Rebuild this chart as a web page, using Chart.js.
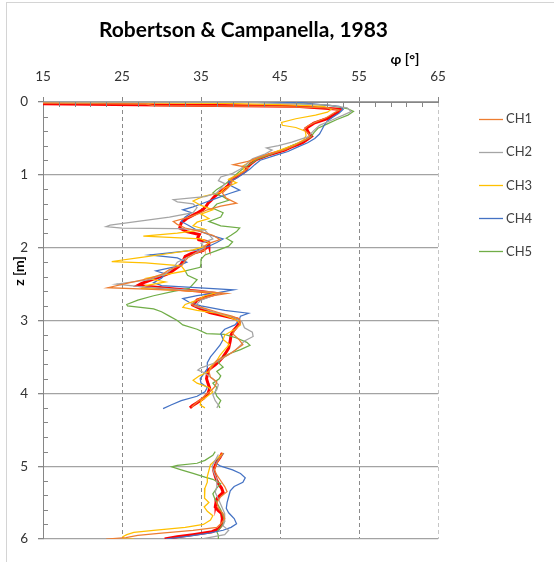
<!DOCTYPE html>
<html>
<head>
<meta charset="utf-8">
<script src="https://cdn.jsdelivr.net/npm/chart.js@4.4.1/dist/chart.umd.min.js"></script>
<style>
  html, body { margin: 0; padding: 0; background: #ffffff; }
  canvas { display: block; }
</style>
</head>
<body>
<canvas id="chart" width="554" height="562"></canvas>
<script>
// Friction angle profiles from CPT soundings: [depth z (m), phi (deg)], null = no data
const titleText = 'Robertson & Campanella, 1983';
const xAxisTitle = 'φ [°]';
const yAxisTitle = 'z [m]';
const xTickValues = [15, 25, 35, 45, 55, 65];
const yTickValues = [0, 1, 2, 3, 4, 5, 6];
const seriesNames = ['CH1', 'CH2', 'CH3', 'CH4', 'CH5'];
const seriesColors = ['#ED7D31', '#A5A5A5', '#FFC000', '#4472C4', '#70AD47'];
const meanColor = '#FF0000';

const ch1 = [[0.01,10],[0.03,28],[0.05,29],[0.06,44],[0.08,51],[0.11,52.5],[0.15,51.8],[0.22,50.8],[0.28,49.4],[0.33,48.5],[0.38,48.0],[0.43,48.6],[0.48,48.8],[0.53,48.0],[0.60,46.8],[0.66,45.5],[0.72,43.5],[0.78,41.8],[0.82,40.8],[0.86,39.1],[0.90,41.0],[0.95,40.5],[1.00,39.8],[1.06,38.8],[1.12,38.9],[1.18,38.4],[1.25,37.7],[1.32,38.2],[1.39,39.5],[1.43,37.5],[1.48,35.8],[1.53,34.8],[1.58,33.5],[1.64,31.5],[1.68,32.0],[1.73,33.0],[1.78,35.0],[1.83,36.5],[1.89,37.4],[1.94,36.0],[1.98,35.4],[2.03,35.5],[2.08,34.3],[2.13,33.4],[2.18,33.0],[2.24,32.6],[2.30,31.0],[2.36,30.2],[2.42,28.5],[2.48,26.0],[2.55,23.2],[2.57,28.0],[2.60,35.0],[2.63,38.3],[2.67,36.0],[2.72,34.5],[2.78,33.8],[2.83,35.4],[2.89,37.2],[2.94,38.9],[2.98,39.9],[3.04,40.0],[3.10,39.5],[3.18,39.0],[3.26,39.8],[3.33,40.3],[3.40,39.4],[3.47,38.5],[3.55,37.0],[3.62,36.5],[3.70,36.0],[3.78,36.2],[3.84,37.0],[3.90,36.8],[3.96,36.3],[4.02,35.6],[4.08,35.0],[4.14,34.3],[4.19,33.8],null,[4.82,37.8],[4.90,37.3],[4.98,36.9],[5.05,36.7],[5.12,37.0],[5.20,37.5],[5.28,38.0],[5.35,38.3],[5.42,37.5],[5.50,37.0],[5.58,37.2],[5.65,37.8],[5.72,38.0],[5.78,37.6],[5.84,37.0],[5.88,34.0],[5.92,30.0],[5.95,27.0],[5.98,25.5],[6.00,23.0]];

const ch2 = [[0.00,10],[0.005,41.2],[0.02,45.0],[0.04,51.0],[0.08,53.5],[0.13,54.0],[0.18,53.0],[0.25,51.5],[0.32,50.0],[0.40,49.2],[0.48,48.5],[0.55,46.5],[0.60,44.8],[0.63,43.3],[0.66,44.0],[0.72,43.0],[0.78,41.5],[0.85,40.8],[0.92,40.0],[0.98,39.0],[1.03,37.5],[1.08,37.2],[1.12,38.0],[1.18,37.6],[1.25,37.0],[1.30,35.5],[1.34,31.5],[1.37,32.0],[1.40,34.0],[1.45,34.5],[1.52,34.0],[1.58,31.0],[1.64,27.0],[1.69,23.5],[1.71,23.0],[1.73,25.0],[1.74,32.0],[1.76,35.5],[1.82,36.0],[1.88,36.5],[1.94,35.0],[2.00,35.5],[2.06,34.5],[2.12,33.6],[2.20,32.0],[2.28,31.5],[2.36,30.5],[2.44,28.5],[2.50,24.3],[2.53,27.0],[2.58,33.0],[2.62,37.5],[2.66,36.5],[2.72,35.0],[2.80,34.2],[2.88,36.5],[2.95,39.0],[3.02,40.2],[3.10,40.5],[3.16,41.5],[3.22,41.6],[3.28,40.5],[3.34,40.0],[3.42,39.2],[3.50,38.0],[3.58,36.8],[3.65,35.0],[3.68,34.6],[3.72,35.5],[3.80,36.5],[3.88,37.2],[3.95,37.0],[4.02,36.5],[4.10,36.8],[4.16,37.2],[4.20,37.0],null,[4.84,37.2],[4.92,36.8],[5.00,36.4],[5.08,36.6],[5.18,37.0],[5.28,37.0],[5.36,36.8],[5.45,37.2],[5.55,37.6],[5.65,38.0],[5.75,38.0],[5.82,37.8],[5.88,38.5],[5.94,38.0],[5.98,36.0],[6.00,35.0]];

const ch3 = [[0.00,10],[0.02,38.0],[0.04,46.0],[0.06,50.5],[0.10,51.5],[0.14,51.0],[0.18,49.5],[0.23,47.0],[0.28,45.2],[0.32,45.3],[0.35,47.0],[0.40,48.2],[0.46,48.3],[0.52,48.0],[0.58,47.0],[0.64,45.5],[0.70,44.0],[0.76,42.3],[0.82,41.2],[0.88,40.3],[0.94,40.5],[1.00,39.6],[1.06,38.5],[1.11,39.5],[1.18,38.0],[1.24,37.5],[1.30,35.2],[1.36,34.0],[1.42,35.0],[1.48,36.5],[1.54,35.0],[1.60,36.0],[1.65,34.5],[1.70,34.0],[1.75,35.5],[1.80,32.0],[1.84,27.7],[1.86,31.0],[1.88,35.0],[1.93,36.0],[1.98,35.5],[2.03,34.0],[2.08,31.0],[2.14,27.0],[2.19,23.7],[2.21,28.0],[2.25,32.5],[2.32,33.0],[2.38,30.0],[2.42,28.1],[2.47,30.5],[2.52,28.0],[2.56,27.5],[2.59,33.0],[2.62,37.0],[2.66,35.5],[2.72,34.5],[2.78,33.0],[2.82,32.7],[2.86,34.5],[2.90,37.0],[2.95,38.5],[3.00,39.6],[3.06,40.0],[3.12,39.3],[3.20,38.0],[3.26,37.8],[3.33,38.6],[3.40,38.0],[3.48,37.4],[3.55,37.0],[3.62,36.3],[3.70,36.0],[3.76,34.8],[3.82,34.0],[3.86,34.5],[3.92,36.0],[3.98,36.5],[4.04,35.8],[4.10,35.0],[4.16,34.9],[4.20,35.5],null,[4.82,37.8],[4.90,37.0],[4.98,36.2],[5.06,36.0],[5.14,35.8],[5.22,35.8],[5.30,35.5],[5.38,35.5],[5.44,35.4],[5.50,36.0],[5.56,35.4],[5.62,35.8],[5.68,36.5],[5.74,36.2],[5.80,35.3],[5.84,33.0],[5.88,29.0],[5.91,26.5],[5.94,25.6],[5.97,25.1],[6.00,25.2],[6.00,26.5]];

const ch4 = [[0.00,10],[0.005,47.5],[0.02,48.5],[0.04,50.5],[0.06,52.5],[0.10,53.0],[0.15,52.5],[0.20,51.8],[0.26,51.0],[0.32,50.6],[0.38,50.3],[0.44,50.0],[0.50,49.4],[0.56,48.5],[0.62,47.2],[0.68,46.0],[0.74,44.2],[0.80,42.5],[0.86,41.8],[0.92,41.2],[0.98,40.4],[1.04,39.6],[1.10,38.5],[1.15,38.8],[1.21,39.9],[1.26,38.5],[1.32,37.0],[1.38,35.5],[1.44,34.0],[1.48,32.7],[1.52,33.8],[1.58,33.0],[1.64,32.5],[1.70,33.5],[1.76,34.5],[1.82,36.0],[1.88,37.8],[1.93,37.0],[1.98,36.0],[2.03,34.5],[2.07,31.0],[2.10,28.5],[2.14,32.0],[2.20,33.2],[2.26,31.8],[2.32,29.3],[2.36,30.5],[2.42,30.0],[2.48,29.0],[2.52,30.0],[2.56,36.0],[2.58,39.1],[2.62,37.0],[2.66,34.5],[2.70,32.7],[2.75,33.5],[2.80,35.0],[2.86,38.0],[2.90,41.0],[2.94,40.0],[3.00,39.8],[3.06,39.3],[3.12,38.0],[3.18,37.5],[3.26,37.8],[3.34,37.4],[3.42,36.8],[3.50,36.2],[3.58,35.8],[3.66,35.8],[3.74,35.3],[3.80,34.9],[3.86,35.0],[3.92,35.8],[3.98,35.5],[4.04,34.5],[4.10,32.5],[4.16,31.2],[4.21,30.2],null,[4.82,37.9],[4.90,37.2],[4.96,36.9],[5.00,37.5],[5.05,39.0],[5.10,40.0],[5.16,40.6],[5.22,40.3],[5.28,39.2],[5.34,38.7],[5.42,38.5],[5.50,38.3],[5.58,38.2],[5.64,38.5],[5.72,39.2],[5.79,39.5],[5.84,38.8],[5.88,37.8],[5.92,36.0],[5.96,33.5],[6.00,30.5]];

const ch5 = [[0.00,10],[0.005,42.0],[0.02,47.0],[0.05,51.5],[0.09,53.5],[0.13,54.3],[0.18,53.6],[0.24,52.2],[0.30,51.0],[0.36,49.8],[0.42,49.3],[0.48,48.9],[0.54,47.8],[0.60,46.5],[0.66,45.2],[0.72,43.8],[0.78,42.2],[0.84,41.4],[0.90,40.5],[0.96,39.8],[1.02,39.2],[1.08,38.6],[1.14,37.9],[1.20,37.0],[1.25,36.5],[1.30,37.8],[1.35,38.5],[1.40,37.0],[1.46,36.5],[1.52,37.8],[1.58,37.5],[1.64,36.0],[1.70,37.5],[1.73,39.9],[1.78,39.5],[1.83,38.8],[1.87,38.2],[1.92,39.0],[1.98,38.5],[2.04,37.0],[2.10,35.5],[2.16,35.0],[2.22,35.0],[2.27,34.9],[2.32,33.0],[2.38,33.3],[2.44,34.5],[2.50,34.0],[2.56,33.5],[2.60,31.5],[2.66,29.0],[2.72,27.0],[2.78,25.6],[2.80,25.7],[2.84,29.0],[2.88,30.0],[2.94,31.0],[3.00,32.0],[3.06,32.7],[3.12,34.5],[3.18,35.7],[3.19,38.0],[3.24,39.5],[3.30,40.8],[3.34,41.2],[3.40,40.0],[3.46,38.5],[3.52,37.5],[3.58,37.2],[3.64,37.8],[3.70,37.0],[3.76,37.5],[3.80,37.3],[3.86,36.5],[3.92,37.0],[3.98,36.8],[4.04,37.0],[4.10,37.5],[4.16,37.2],[4.20,37.4],null,[4.80,36.8],[4.85,36.5],[4.92,35.5],[4.96,34.5],[4.99,32.0],[5.01,31.3],[5.05,32.5],[5.10,34.0],[5.15,35.5],[5.18,36.5],[5.24,37.5],[5.30,37.0],[5.38,36.5],[5.46,36.8],[5.54,37.2],[5.60,37.5],[5.68,37.8],[5.76,38.0],[5.84,37.5],[5.90,37.0],[5.95,37.2],[6.00,37.2]];

// Average profile of the five soundings
const meanProfile = [[0.02,10],[0.04,30],[0.06,47],[0.10,52.6],[0.15,52.2],[0.22,51.2],[0.29,49.3],[0.36,48.3],[0.42,48.6],[0.47,49.0],[0.52,48.4],[0.56,47.8],[0.62,46.4],[0.66,45.6],[0.72,43.7],[0.79,42.0],[0.85,41.3],[0.89,40.9],[0.95,40.6],[1.00,39.9],[1.05,39.2],[1.09,38.6],[1.14,38.5],[1.18,38.1],[1.23,37.5],[1.30,36.7],[1.35,36.3],[1.39,35.9],[1.44,35.6],[1.48,35.2],[1.53,34.4],[1.57,33.7],[1.60,33.2],[1.66,32.5],[1.73,32.3],[1.78,33.2],[1.82,34.8],[1.86,34.6],[1.89,34.7],[1.92,35.9],[1.96,36.0],[2.00,35.7],[2.04,35.2],[2.08,33.8],[2.12,33.0],[2.19,32.7],[2.24,32.4],[2.28,31.9],[2.35,31.0],[2.40,29.8],[2.44,28.8],[2.49,27.5],[2.52,27.0],[2.56,31.0],[2.60,35.0],[2.63,37.0],[2.67,35.8],[2.72,34.5],[2.79,34.0],[2.84,35.0],[2.89,36.1],[2.94,38.0],[2.98,39.6],[3.04,39.8],[3.09,39.5],[3.14,39.1],[3.20,38.8],[3.28,38.7],[3.38,38.5],[3.45,38.1],[3.50,37.8],[3.56,37.3],[3.61,36.8],[3.68,35.9],[3.74,35.8],[3.80,35.7],[3.87,35.9],[3.93,36.1],[4.00,35.9],[4.07,35.3],[4.13,34.5],[4.17,33.9],[4.20,33.6],null,[4.82,37.7],[4.88,37.4],[4.94,37.0],[4.99,36.8],[5.05,36.6],[5.10,36.7],[5.17,36.9],[5.24,37.2],[5.30,37.6],[5.36,37.8],[5.41,37.3],[5.45,37.0],[5.50,36.9],[5.56,36.8],[5.61,37.2],[5.65,37.6],[5.72,37.7],[5.81,37.6],[5.86,37.2],[5.90,36.4],[5.94,34.0],[5.97,32.0],[6.00,30.4]];

const channelProfiles = [ch1, ch2, ch3, ch4, ch5];

const FONT = 'Lato, "Open Sans", sans-serif';
const AXIS_GREY = '#868686';

function toPoints(profile) {
  return profile.map(p => p === null ? { x: null, y: null } : { x: p[1], y: p[0] });
}

const datasets = channelProfiles.map((prof, i) => ({
  label: seriesNames[i],
  data: toPoints(prof),
  borderColor: seriesColors[i],
  backgroundColor: seriesColors[i],
  borderWidth: 1.25,
  pointRadius: 0,
  showLine: true,
  spanGaps: false,
  tension: 0
}));
datasets.push({
  label: 'mean',
  data: toPoints(meanProfile),
  borderColor: meanColor,
  backgroundColor: meanColor,
  borderWidth: 3,
  pointRadius: 0,
  showLine: true,
  spanGaps: false,
  tension: 0
});

// Minor ticks (inside), frame, titles and legend
const decorations = {
  id: 'decorations',
  beforeDraw(chart) {
    const ctx = chart.ctx;
    ctx.save();
    ctx.fillStyle = '#ffffff';
    ctx.fillRect(0, 0, chart.width, chart.height);
    ctx.strokeStyle = '#d4d4d4';
    ctx.lineWidth = 1;
    ctx.strokeRect(6.5, 2.5, chart.width + 20, chart.height + 20);
    ctx.restore();
  },
  afterDraw(chart) {
    const ctx = chart.ctx;
    const xs = chart.scales.x, ys = chart.scales.y;
    const area = chart.chartArea;
    ctx.save();
    ctx.strokeStyle = AXIS_GREY;
    ctx.lineWidth = 1;
    ctx.beginPath();
    for (let v = xs.min + 2; v < xs.max; v += 2) {
      if ((v - xs.min) % 10 === 0) continue;
      const px = Math.round(xs.getPixelForValue(v)) + 0.5;
      ctx.moveTo(px, area.top);
      ctx.lineTo(px, area.top + 5);
    }
    for (let k = 1; k < 30; k++) {
      if (k % 5 === 0) continue;
      const py = Math.round(ys.getPixelForValue(k / 5)) + 0.5;
      ctx.moveTo(area.left, py);
      ctx.lineTo(area.left + 5, py);
    }
    ctx.stroke();

    // Title, sized to its box
    ctx.fillStyle = '#000000';
    ctx.textAlign = 'center';
    ctx.textBaseline = 'middle';
    ctx.font = 'bold 20px ' + FONT;
    const w = ctx.measureText(titleText).width;
    const size = Math.min(22, 20 * 289 / w);
    ctx.font = 'bold ' + size.toFixed(2) + 'px ' + FONT;
    ctx.fillText(titleText, 243.5, 30);

    // Axis titles
    ctx.font = 'bold 14px ' + FONT;
    ctx.fillText(xAxisTitle, 405, 59);
    ctx.save();
    ctx.translate(19, 271);
    ctx.rotate(-Math.PI / 2);
    ctx.fillText(yAxisTitle, 0, 0);
    ctx.restore();

    // Legend
    ctx.font = '13px ' + FONT;
    ctx.textAlign = 'left';
    seriesNames.forEach((name, i) => {
      const y = 118.5 + i * 33.2;
      ctx.strokeStyle = seriesColors[i];
      ctx.lineWidth = 1.3;
      ctx.beginPath();
      ctx.moveTo(479, Math.round(y) + 0.5);
      ctx.lineTo(503, Math.round(y) + 0.5);
      ctx.stroke();
      ctx.fillStyle = '#404040';
      ctx.fillText(name, 506, y + 0.5);
    });
    ctx.restore();
  }
};

new Chart(document.getElementById('chart'), {
  type: 'scatter',
  data: { datasets },
  plugins: [decorations],
  options: {
    responsive: false,
    devicePixelRatio: 1,
    animation: false,
    events: [],
    layout: { padding: { left: 0, top: 0, right: 116, bottom: 23 } },
    plugins: {
      legend: { display: false },
      title: { display: false },
      tooltip: { enabled: false }
    },
    scales: {
      x: {
        type: 'linear',
        position: 'top',
        min: 15,
        max: 65,
        afterBuildTicks: s => { s.ticks = xTickValues.map(v => ({ value: v })); },
        afterFit: s => { s.height = 102; },
        ticks: {
          padding: 12,
          color: '#333333',
          font: { family: FONT, size: 13.5 },
          maxRotation: 0
        },
        grid: {
          color: ctx => {
            const v = ctx.tick ? ctx.tick.value : null;
            if (v === 15) return 'rgba(0,0,0,0)';
            if (v === 65) return '#c6c6c6';
            return '#8a8a8a';
          },
          lineWidth: 1,
          tickLength: 5,
          tickColor: AXIS_GREY
        },
        border: { display: true, color: AXIS_GREY, width: 1, dash: [4, 3] }
      },
      y: {
        type: 'linear',
        reverse: true,
        min: 0,
        max: 6,
        afterBuildTicks: s => { s.ticks = yTickValues.map(v => ({ value: v })); },
        afterFit: s => { s.width = 43; },
        ticks: {
          padding: 10,
          color: '#333333',
          font: { family: FONT, size: 13.5 }
        },
        grid: {
          color: '#a3a3a3',
          lineWidth: 1.3,
          tickLength: 5,
          tickColor: AXIS_GREY
        },
        border: { display: true, color: AXIS_GREY, width: 1 }
      }
    }
  }
});
</script>
</body>
</html>
